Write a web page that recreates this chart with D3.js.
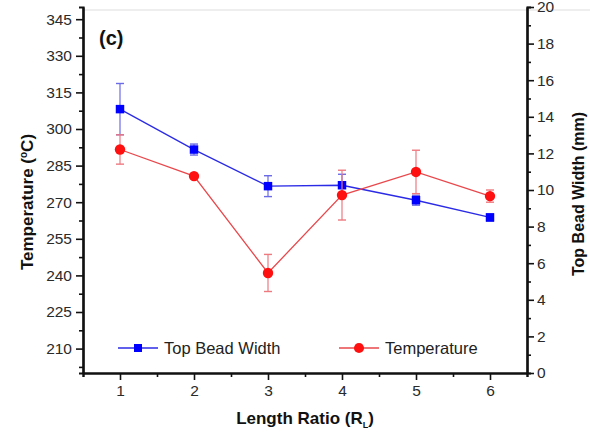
<!DOCTYPE html>
<html>
<head>
<meta charset="utf-8">
<script src="https://cdn.jsdelivr.net/npm/d3@7"></script>
<style>
  body { margin: 0; background: #fff; }
  svg { display: block; }
  .tick text { font-family: "Liberation Sans", Arial, sans-serif; font-size: 15.5px; fill: #2a2a2a; }
  .axis path, .axis line { stroke: #111; }
  .title { font-family: "Liberation Sans", Arial, sans-serif; font-weight: bold; font-size: 16px; fill: #111; }
  .legend text { font-family: "Liberation Sans", Arial, sans-serif; font-size: 16.5px; fill: #222; }
</style>
</head>
<body>
<div class="canvas"></div>
<script>
// dimensions
const w = 590;
const h = 434;
const margin = { top: 7, right: 63, bottom: 61, left: 83 };
const graphWidth = w - margin.left - margin.right;
const graphHeight = h - margin.top - margin.bottom;

// data
const ratios = [1, 2, 3, 4, 5, 6];
const beadWidth = [14.42, 12.21, 10.21, 10.26, 9.44, 8.5];
const beadWidthErr = [1.4, 0.3, 0.57, 0.6, 0.27, 0.2];
const temperature = [291.6, 280.7, 241.0, 272.9, 282.4, 272.5];
const temperatureErr = [6.0, 1.0, 7.6, 10.2, 8.9, 2.5];

const xTicks = [1, 2, 3, 4, 5, 6];
const tempTicks = [210, 225, 240, 255, 270, 285, 300, 315, 330, 345];
const widthTicks = [0, 2, 4, 6, 8, 10, 12, 14, 16, 18, 20];

const svg = d3.select(".canvas").append("svg").attr("width", w).attr("height", h);

// faint border line from the scan
svg.append("line")
  .attr("x1", margin.left).attr("x2", w)
  .attr("y1", 10).attr("y2", 10)
  .attr("stroke", "#ddd").attr("stroke-width", 1);

const graph = svg.append("g")
  .attr("transform", `translate(${margin.left}, ${margin.top})`);

// scales
const xScale = d3.scaleLinear().domain([0.5, 6.5]).range([0, graphWidth]);
const yTemp = d3.scaleLinear().domain([200, 350]).range([graphHeight, 0]);
const yWidth = d3.scaleLinear().domain([0, 20]).range([graphHeight, 0]);

// minor ticks
const xMinor = d3.range(0.5, 6.51, 0.5).filter(v => !xTicks.includes(v));
const tempMinor = d3.range(202.5, 350, 7.5).filter(v => !tempTicks.includes(v));
const widthMinor = d3.range(1, 20, 2);

function styleAxis(g) {
  g.attr("class", "axis");
  g.select(".domain").attr("stroke-width", 2.2);
  g.selectAll(".tick line").attr("stroke-width", 1.6);
}

graph.append("g")
  .attr("transform", `translate(0, ${graphHeight})`)
  .call(d3.axisBottom(xScale).tickValues(xMinor).tickSize(4).tickFormat(""))
  .call(styleAxis);
graph.append("g")
  .attr("transform", `translate(0, ${graphHeight})`)
  .call(d3.axisBottom(xScale).tickValues(xTicks).tickSize(7).tickSizeOuter(0).tickPadding(5).tickFormat(d3.format("d")))
  .call(styleAxis);

graph.append("g")
  .call(d3.axisLeft(yTemp).tickValues(tempMinor).tickSize(4).tickFormat(""))
  .call(styleAxis);
graph.append("g")
  .call(d3.axisLeft(yTemp).tickValues(tempTicks).tickSize(7).tickSizeOuter(0).tickPadding(4))
  .call(styleAxis);

graph.append("g")
  .attr("transform", `translate(${graphWidth}, 0)`)
  .call(d3.axisRight(yWidth).tickValues(widthMinor).tickSize(4).tickFormat(""))
  .call(styleAxis);
graph.append("g")
  .attr("transform", `translate(${graphWidth}, 0)`)
  .call(d3.axisRight(yWidth).tickValues(widthTicks).tickSize(7).tickSizeOuter(0).tickPadding(3))
  .call(styleAxis);

// series helper
function drawSeries(vals, errs, yScale, color, errColor, shape) {
  const pts = ratios.map((r, i) => ({ x: r, y: vals[i], e: errs[i] }));
  const eb = graph.append("g");
  pts.forEach(d => {
    const x = xScale(d.x), y1 = yScale(d.y + d.e), y2 = yScale(d.y - d.e);
    eb.append("line").attr("x1", x).attr("x2", x).attr("y1", y1).attr("y2", y2)
      .attr("stroke", errColor).attr("stroke-width", 1.2);
    [y1, y2].forEach(yy => eb.append("line")
      .attr("x1", x - 4).attr("x2", x + 4).attr("y1", yy).attr("y2", yy)
      .attr("stroke", errColor).attr("stroke-width", 1.4));
  });
  graph.append("path")
    .datum(pts)
    .attr("fill", "none")
    .attr("stroke", color)
    .attr("stroke-width", 1.3)
    .attr("d", d3.line().x(d => xScale(d.x)).y(d => yScale(d.y)));
  graph.append("g").selectAll("path").data(pts).enter().append("path")
    .attr("transform", d => `translate(${xScale(d.x)}, ${yScale(d.y)})`)
    .attr("fill", shape === "square" ? "#0000ff" : "#ff1010")
    .attr("d", d3.symbol().type(shape === "square" ? d3.symbolSquare : d3.symbolCircle).size(shape === "square" ? 72 : 85));
}

drawSeries(beadWidth, beadWidthErr, yWidth, "#2b2be6", "#6b6be8", "square");
drawSeries(temperature, temperatureErr, yTemp, "#e8484c", "#ee7a80", "circle");

// panel label
svg.append("text")
  .attr("x", 99).attr("y", 45)
  .attr("class", "title")
  .style("font-size", "20px")
  .text("(c)");

// legend
const legend = svg.append("g").attr("class", "legend");
const legendItems = [
  { label: "Top Bead Width", x: 118, color: "#2b2be6", shape: d3.symbolSquare, fill: "#0000ff", size: 64 },
  { label: "Temperature", x: 339, color: "#e8484c", shape: d3.symbolCircle, fill: "#ff1010", size: 80 }
];
legendItems.forEach(d => {
  const ly = 348;
  legend.append("line").attr("x1", d.x).attr("x2", d.x + 40).attr("y1", ly).attr("y2", ly)
    .attr("stroke", d.color).attr("stroke-width", 1.3);
  legend.append("path").attr("transform", `translate(${d.x + 20}, ${ly})`)
    .attr("fill", d.fill).attr("d", d3.symbol().type(d.shape).size(d.size));
  legend.append("text").attr("x", d.x + 46).attr("y", ly + 6).text(d.label);
});

// axis titles
svg.append("text")
  .attr("class", "title")
  .attr("text-anchor", "middle")
  .style("font-size", "17px")
  .attr("transform", `translate(${margin.left + graphWidth / 2}, 424)`)
  .html('Length Ratio (R<tspan dy="4" font-size="9px">L</tspan><tspan dy="-4">)</tspan>');

svg.append("text")
  .attr("class", "title")
  .attr("text-anchor", "middle")
  .style("font-size", "17px")
  .attr("transform", `translate(33, 202) rotate(-90)`)
  .html('Temperature (<tspan dy="-6" font-size="10px">o</tspan><tspan dy="6">C)</tspan>');

svg.append("text")
  .attr("class", "title")
  .attr("text-anchor", "middle")
  .attr("transform", `translate(584, 194) rotate(-90)`)
  .text("Top Bead Width (mm)");
</script>
</body>
</html>
